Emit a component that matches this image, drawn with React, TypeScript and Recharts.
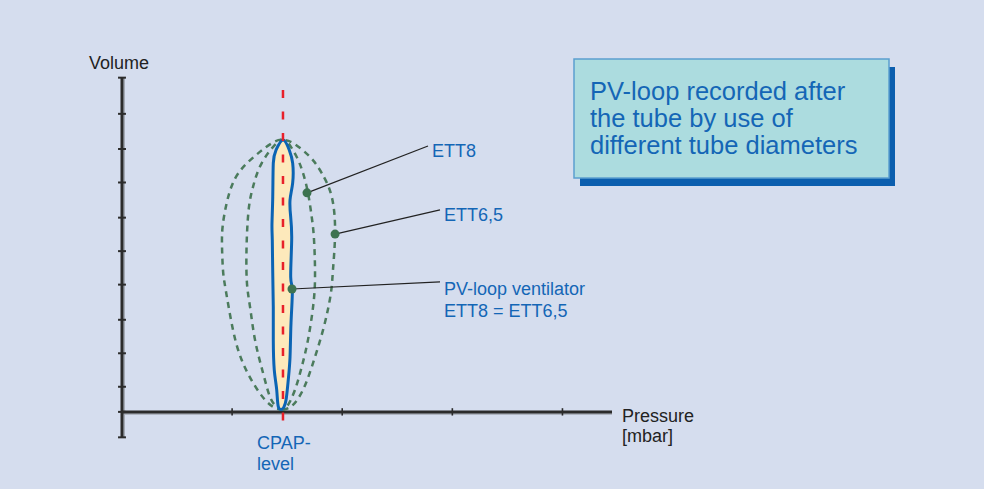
import { LineChart, Line, XAxis, YAxis, ReferenceLine } from 'recharts';

// pressure [unit steps] / volume [unit steps]
const pressureTicks = [1, 2, 3, 4];
const volumeTicks = [-0.76, 0, 0.75, 1.75, 2.75, 3.8, 4.8, 5.8, 6.85, 7.85, 8.9, 9.98];
const volumeRange: [number, number] = [-0.78, 10];
const pressureRange: [number, number] = [0, 4.45];
const cpapLevel = 1.462;

const ett65Loop: [number, number][] = [
  [1.462, 0.06], [1.39, 0.12], [1.299, 0.36], [1.19, 0.87], [1.087, 1.55], [1.008, 2.45],
  [0.942, 3.64], [0.917, 4.24], [0.908, 5.0], [0.916, 5.6], [0.951, 6.24], [1.008, 6.84],
  [1.133, 7.42], [1.36, 8.02], [1.462, 8.12], [1.553, 8.03], [1.708, 7.61], [1.814, 7.13],
  [1.905, 6.42], [1.935, 5.34], [1.916, 4.24], [1.895, 3.5], [1.826, 2.45], [1.723, 1.34],
  [1.644, 0.66], [1.553, 0.21], [1.462, 0.06],
];

const ett8Loop: [number, number][] = [
  [1.462, 0.06], [1.405, 0.15], [1.344, 0.45], [1.281, 1.16], [1.208, 2.15], [1.163, 3.13],
  [1.133, 3.94], [1.133, 5.13], [1.153, 6.12], [1.19, 6.72], [1.269, 7.43], [1.405, 8.03],
  [1.462, 8.12], [1.508, 8.03], [1.587, 7.61], [1.644, 7.13], [1.689, 6.54], [1.723, 5.82],
  [1.744, 5.13], [1.753, 4.03], [1.735, 3.13], [1.689, 2.15], [1.632, 1.34], [1.571, 0.66],
  [1.508, 0.21], [1.462, 0.06],
];

const ventilatorLoop: [number, number][] = [
  [1.462, 0.09], [1.42, 0.15], [1.405, 0.66], [1.383, 1.25], [1.374, 2.15], [1.374, 3.13],
  [1.369, 4.15], [1.365, 5.13], [1.362, 5.6], [1.369, 6.42], [1.374, 7.43], [1.399, 7.82],
  [1.462, 8.12], [1.519, 7.82], [1.55, 7.43], [1.55, 6.84], [1.526, 6.33], [1.532, 5.82],
  [1.541, 5.13], [1.532, 4.03], [1.547, 3.64], [1.535, 2.66], [1.526, 1.64], [1.51, 0.96],
  [1.49, 0.36], [1.471, 0.15], [1.462, 0.09],
];

const cpapSpan: [number, number][] = [[cpapLevel, 9.61], [cpapLevel, -0.3]];

const ett8Leader: [number, number][] = [[1.68, 6.54], [2.779, 7.94]];
const ett65Leader: [number, number][] = [[1.935, 5.31], [2.888, 6.03]];
const ventLeader: [number, number][] = [[1.544, 3.67], [2.888, 3.88]];

const ett8Label = ['ETT8'];
const ett65Label = ['ETT6,5'];
const ventLabel = ['PV-loop ventilator', 'ETT8 = ETT6,5'];

const boxLines = ['PV-loop recorded after', 'the tube by use of', 'different tube diameters'];

const toPts = (arr: [number, number][]) => arr.map(([p, v]) => ({ p, v }));

const FONT = '"Liberation Sans", Arial, sans-serif';
const BLUE_TEXT = '#1466b6';
const AXIS = '#2b2b2b';
const AXIS_SHADOW = '#a3a8b3';

const leaderDot = (lines: string[], dy: number) => (props: any) => {
  const { cx, cy, index } = props;
  if (index === 0) {
    return <circle key={`d${index}`} cx={cx} cy={cy} r={4.5} fill="#3d7350" />;
  }
  return (
    <text key={`t${index}`} x={cx + 4} y={cy + dy} fontSize={18} fill={BLUE_TEXT} fontFamily={FONT}>
      {lines.map((l, i) => (
        <tspan key={i} x={cx + 4} dy={i === 0 ? 0 : 22}>
          {l}
        </tspan>
      ))}
    </text>
  );
};

export default function App() {
  return (
    <div
      style={{
        position: 'absolute',
        left: 0,
        top: 0,
        width: 984,
        height: 489,
        background: '#d5ddee',
        fontFamily: FONT,
      }}
    >
      <style>{'.pv-fill .recharts-line-curve{fill:#fde9bb}'}</style>
      <LineChart width={984} height={489} margin={{ top: 77, left: 122, right: 372, bottom: 51 }}>
        <XAxis type="number" dataKey="p" domain={pressureRange} hide allowDataOverflow />
        <YAxis type="number" dataKey="v" domain={volumeRange} hide allowDataOverflow />

        {/* axis shadows */}
        <ReferenceLine
          segment={[{ x: 0.02, y: volumeRange[0] }, { x: 0.02, y: volumeRange[1] }]}
          stroke={AXIS_SHADOW}
          strokeWidth={1.5}
          ifOverflow="visible"
        />
        <ReferenceLine
          segment={[{ x: 0, y: -0.065 }, { x: pressureRange[1], y: -0.065 }]}
          stroke={AXIS_SHADOW}
          strokeWidth={1.5}
          ifOverflow="visible"
        />

        {/* volume axis */}
        <ReferenceLine
          segment={[{ x: 0, y: volumeRange[0] }, { x: 0, y: volumeRange[1] }]}
          stroke={AXIS}
          strokeWidth={3}
          ifOverflow="visible"
        />
        {volumeTicks.map((t) => (
          <ReferenceLine
            key={`v${t}`}
            segment={[{ x: -0.036, y: t }, { x: 0.036, y: t }]}
            stroke={AXIS}
            strokeWidth={2}
            ifOverflow="visible"
          />
        ))}

        {/* pressure axis */}
        <ReferenceLine
          segment={[{ x: 0, y: 0 }, { x: pressureRange[1], y: 0 }]}
          stroke={AXIS}
          strokeWidth={3}
          ifOverflow="visible"
        />
        {pressureTicks.map((t) => (
          <ReferenceLine
            key={`p${t}`}
            segment={[{ x: t, y: -0.11 }, { x: t, y: 0.11 }]}
            stroke={AXIS}
            strokeWidth={1.6}
            ifOverflow="visible"
          />
        ))}

        <Line
          data={toPts(ett65Loop)}
          dataKey="v"
          type="natural"
          stroke="#4b7b5c"
          strokeWidth={2.5}
          strokeDasharray="6 5"
          dot={false}
          activeDot={false}
          isAnimationActive={false}
        />
        <Line
          data={toPts(ett8Loop)}
          dataKey="v"
          type="natural"
          stroke="#4b7b5c"
          strokeWidth={2.5}
          strokeDasharray="6 5"
          dot={false}
          activeDot={false}
          isAnimationActive={false}
        />
        <Line
          className="pv-fill"
          data={toPts(ventilatorLoop)}
          dataKey="v"
          type="natural"
          stroke="#0b64b4"
          strokeWidth={3}
          dot={false}
          activeDot={false}
          isAnimationActive={false}
        />
        <Line
          data={toPts(cpapSpan)}
          dataKey="v"
          type="linear"
          stroke="#e8202a"
          strokeWidth={2.5}
          strokeDasharray="8 13.5"
          dot={false}
          activeDot={false}
          isAnimationActive={false}
        />
        <Line
          data={toPts(ett8Leader)}
          dataKey="v"
          type="linear"
          stroke="#222"
          strokeWidth={1.2}
          dot={leaderDot(ett8Label, 11)}
          activeDot={false}
          isAnimationActive={false}
        />
        <Line
          data={toPts(ett65Leader)}
          dataKey="v"
          type="linear"
          stroke="#222"
          strokeWidth={1.2}
          dot={leaderDot(ett65Label, 11)}
          activeDot={false}
          isAnimationActive={false}
        />
        <Line
          data={toPts(ventLeader)}
          dataKey="v"
          type="linear"
          stroke="#222"
          strokeWidth={1.2}
          dot={leaderDot(ventLabel, 13)}
          activeDot={false}
          isAnimationActive={false}
        />
      </LineChart>

      <svg
        width={984}
        height={489}
        style={{ position: 'absolute', left: 0, top: 0, pointerEvents: 'none' }}
        fontFamily={FONT}
      >
        <text x={89} y={69} fontSize={18} fill="#222">Volume</text>
        <text x={622} y={422} fontSize={18} fill="#222">Pressure</text>
        <text x={622} y={442} fontSize={18} fill="#222">[mbar]</text>
        <text x={257} y={449} fontSize={18} fill={BLUE_TEXT}>CPAP-</text>
        <text x={257} y={470} fontSize={18} fill={BLUE_TEXT}>level</text>

        <rect x={580} y={67} width={315} height={119} fill="#0b5eae" />
        <rect x={574} y={59} width={315} height={119} fill="#acdcdf" stroke="#5b9fcf" strokeWidth={1.5} />
        {boxLines.map((l, i) => (
          <text key={i} x={590} y={100 + i * 27} fontSize={25.5} fill={BLUE_TEXT}>
            {l}
          </text>
        ))}
      </svg>
    </div>
  );
}
